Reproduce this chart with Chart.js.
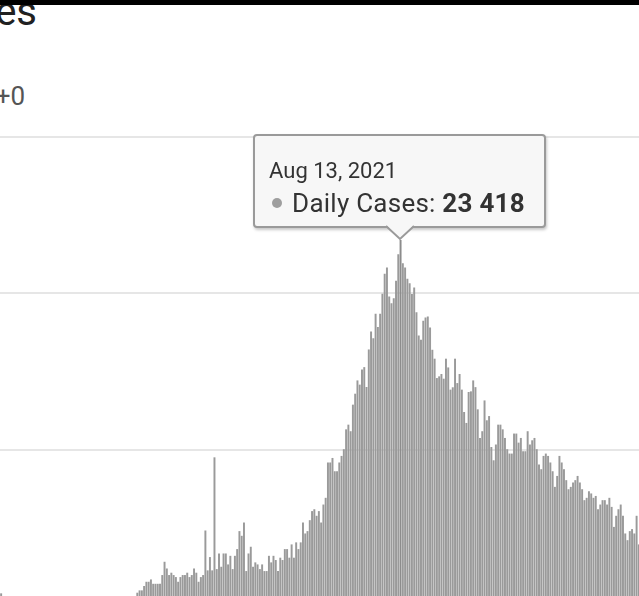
<!DOCTYPE html>
<html>
<head>
<meta charset="utf-8">
<script src="https://cdn.jsdelivr.net/npm/chart.js@4.4.1/dist/chart.umd.min.js"></script>
<style>
  html, body { margin: 0; padding: 0; background: #fff; overflow: hidden; width: 639px; height: 596px; }
  body { position: relative; font-family: Roboto, "Noto Sans", sans-serif; }
  #topbar { position: absolute; left: 0; top: 0; width: 639px; height: 5px; background: #000; z-index: 5; }
  #title { position: absolute; right: 602px; top: -12px; font-size: 40px; line-height: 48px; color: #212121; white-space: nowrap; }
  #delta { position: absolute; right: 614px; top: 81px; font-size: 26px; line-height: 30px; color: #555; white-space: nowrap; }
  #chart-box { position: absolute; left: 0; top: 0; width: 640px; height: 606px; }
  #tip { position: absolute; box-sizing: border-box; width: 293px; height: 94px; background: #f7f7f7;
         border: 2px solid #9a9a9a; border-radius: 4px; box-shadow: 1px 2px 3px rgba(0,0,0,0.22); color: #333; }
  #tip .t-title { position: absolute; left: 14px; top: 24px; font-size: 22px; line-height: 22px; white-space: nowrap; }
  #tip .t-body { position: absolute; left: 37px; top: 54px; font-size: 26px; line-height: 26px; letter-spacing: 0.25px; white-space: nowrap; }
  #tip .t-body b { font-weight: 700; }
  #tip .dot { position: absolute; left: 17px; top: 62px; width: 10px; height: 10px; border-radius: 50%; background: #9e9e9e; }
  #tip svg { position: absolute; left: 130px; top: 88px; }
</style>
</head>
<body>
<div id="topbar"></div>
<div id="title">Daily Cases</div>
<div id="delta">+0</div>
<div id="chart-box"><canvas id="cases-chart" width="640" height="606"></canvas></div>

<script>
// Daily cases (one value per day)
const leadCases = [
  810, 520, 480, 450, 500, 470, 430, 460, 490, 440, 420, 450, 480, 460, 430,
  410, 440, 470, 450, 420, 400, 430, 460, 440, 410, 390, 420, 450, 430, 400,
  380, 410, 440, 420, 390, 370, 400, 430, 410, 380, 360, 390, 420, 400, 370,
  360, 390, 420, 410, 380, 370, 400, 430, 420, 390, 380, 410, 440, 430, 400
]
const springCases = [
  850, 1000, 1000, 1280, 1550, 1550, 1700, 1420, 1420, 1420, 1420, 1980, 2830, 2400, 1980,
  2130, 1980, 1850, 1550, 1850, 1980, 1980, 2130, 1850, 1980, 2400, 2130, 1550, 1850, 1980,
  4830, 2280, 3130, 2280, 9510
]
const earlySummerCases = [
  2360, 3360, 2510, 3360, 3360, 2660, 3210, 2360, 3210, 3640, 4790, 4490, 5340, 2235, 3360,
  3790, 2510, 2790, 2660, 2360, 2660, 2235, 2235, 3210, 2790, 3210, 2940, 2235, 3090, 2940,
  3640, 3640, 3090, 3940, 3090, 4070, 3640
]
const riseCases = [
  4070, 5340, 4640, 4790, 5490, 6070, 6190, 5770, 6070, 5340, 6490, 6920, 9180, 9180, 9470,
  8620, 8620, 9180, 9600, 10030, 11300, 11600, 11180, 12880, 13580, 14430, 14160, 15130, 15280, 14010,
  16410, 17560, 17130, 18690, 17840, 18690, 19970, 21250
]
const peakCases = [
  21650, 19800, 19370, 19690, 20800, 22500, 23418, 21920, 21650, 20930, 20650, 19950, 20370, 18790, 17300,
  17030, 18240, 18460, 18520, 17820, 16390, 15820, 14580, 14690, 14840, 14540, 15820, 15260, 13840, 13990,
  15820, 14260, 14840, 13840, 12410, 11710, 13690
]
const declineCases = [
  13730, 14430, 14000, 12580, 10750, 11180, 13150, 11880, 12150, 10170, 9320, 10330, 11600, 11600, 11300,
  10750, 10030, 9750, 9750, 11030, 11030, 10450, 10750, 9900, 9900, 11180, 10330, 10600, 10750, 10030,
  9050, 8750, 9600, 9750, 9600
]
const tailCases = [
  9180, 8620, 7620, 8320, 9600, 9180, 8750, 8050, 7470, 7620, 7900, 8050, 8320, 7900, 7470,
  6770, 6920, 7340, 7200, 6920, 7040, 6190, 6490, 6770, 6770, 6490, 6920, 6340, 5060, 5770,
  6190, 6490, 5770, 4640, 4210, 4790, 4920, 4640, 5770, 3940
]
const yTicks = [0, 10000, 20000, 30000]
const firstDay = Date.UTC(2021, 1, 18) // Feb 18, 2021

const dailyCases = [].concat(leadCases, springCases, earlySummerCases, riseCases, peakCases, declineCases, tailCases)

// One label per day
const dayLabels = dailyCases.map((v, i) =>
  new Date(firstDay + i * 86400000).toLocaleDateString('en-US', { month: 'short', day: 'numeric', year: 'numeric', timeZone: 'UTC' })
)

const formatCount = n => String(n).replace(/\B(?=(\d{3})+(?!\d))/g, ' ')

const ctx = document.getElementById('cases-chart')
const casesChart = new Chart(ctx, {
  type: 'bar',
  data: {
    labels: dayLabels,
    datasets: [{
      label: 'Daily Cases',
      data: dailyCases,
      backgroundColor: '#9a9a9a',
      hoverBackgroundColor: '#8c8c8c',
      barPercentage: 0.86,
      categoryPercentage: 1
    }]
  },
  options: {
    responsive: false,
    animation: false,
    events: [],
    layout: { padding: { top: 137, left: 0, right: 0, bottom: 0 } },
    scales: {
      x: { display: false },
      y: {
        min: yTicks[0],
        max: yTicks[yTicks.length - 1],
        ticks: { display: false, stepSize: yTicks[1] - yTicks[0] },
        grid: { color: '#e6e6e6', lineWidth: 2, drawTicks: false },
        border: { display: false },
        afterFit: axis => { axis.width = 0 }
      }
    },
    plugins: {
      legend: { display: false },
      tooltip: { enabled: false }
    }
  }
})

// Highlight the highest day and show its tooltip
const peakIndex = dailyCases.indexOf(Math.max(...dailyCases))
casesChart.setActiveElements([{ datasetIndex: 0, index: peakIndex }])
casesChart.update()

const peakBar = casesChart.getDatasetMeta(0).data[peakIndex]
const tip = document.createElement('div')
tip.id = 'tip'
tip.innerHTML =
  '<div class="t-title">' + dayLabels[peakIndex] + '</div>' +
  '<span class="dot"></span>' +
  '<div class="t-body">Daily Cases: <b>' + formatCount(dailyCases[peakIndex]) + '</b></div>' +
  '<svg width="30" height="17" viewBox="0 0 30 17">' +
  '<polygon points="0,0 15,14.5 30,0" fill="#f7f7f7"/>' +
  '<polyline points="1,2 15,15 29,2" fill="none" stroke="#9a9a9a" stroke-width="2"/></svg>'
tip.style.left = (peakBar.x - 147.5) + 'px'
tip.style.top = (peakBar.y - 13 - 94 + 1) + 'px'
document.body.appendChild(tip)
</script>
</body>
</html>
